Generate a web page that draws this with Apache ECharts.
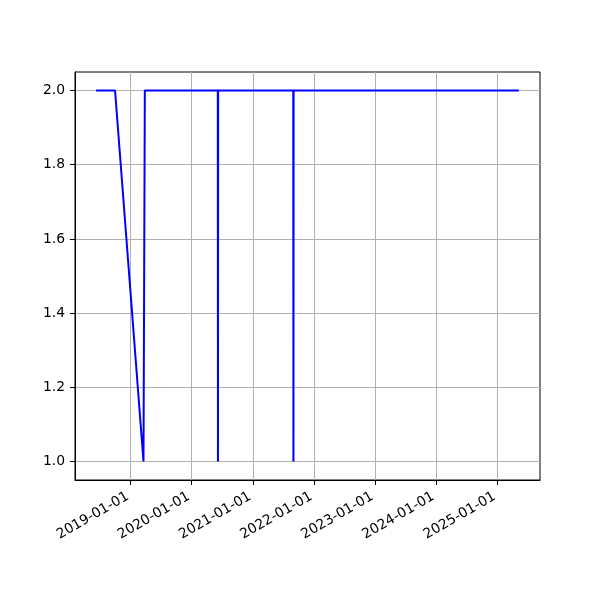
<!DOCTYPE html>
<html>
<head>
<meta charset="utf-8">
<script src="https://cdn.jsdelivr.net/npm/echarts@6/dist/echarts.min.js"></script>
<style>html,body{margin:0;padding:0;background:#fff}#c{width:600px;height:600px}</style>
</head>
<body>
<div id="c"></div>
<script>
const dates = ['2018-06-10','2018-10-01','2019-03-20','2019-03-28','2020-06-06','2020-06-07','2020-06-08','2021-08-31','2021-09-01','2021-09-02','2025-05-10'];
const values = [2, 2, 1, 2, 2, 1, 2, 2, 1, 2, 2];
const xTicks = ['2019-01-01','2020-01-01','2021-01-01','2022-01-01','2023-01-01','2024-01-01','2025-01-01'];
const yTicks = [1.0, 1.2, 1.4, 1.6, 1.8, 2.0];

function ts(s){const p=s.split('-').map(Number);return Date.UTC(p[0],p[1]-1,p[2]);}
function pad(n){return (n<10?'0':'')+n;}
function fmt(v){const d=new Date(v);return d.getUTCFullYear()+'-'+pad(d.getUTCMonth()+1)+'-'+pad(d.getUTCDate());}

const data = dates.map((d,i)=>[ts(d), values[i]]);
const font = 'DejaVu Sans';
const chart = echarts.init(document.getElementById('c'), null, {renderer:'canvas'});
chart.setOption({
  animation:false,
  backgroundColor:'#fff',
  grid:{left:75,right:60,top:72,bottom:120,show:true,borderColor:'#000',borderWidth:1,backgroundColor:'transparent'},
  xAxis:{
    type:'value',
    scale:true,
    min:v=>v.min-0.05*(v.max-v.min),
    max:v=>v.max+0.05*(v.max-v.min),
    axisLine:{show:true,lineStyle:{color:'#000',width:1}},
    axisTick:{show:true,length:5,lineStyle:{color:'#000'},customValues:xTicks.map(ts)},
    axisLabel:{customValues:xTicks.map(ts),formatter:v=>fmt(v),rotate:30,margin:14,padding:[0,3,0,0],color:'#000',fontFamily:font,fontSize:13.9},
    splitLine:{show:true,lineStyle:{color:'#b0b0b0',width:1}}
  },
  yAxis:{
    type:'value',
    min:0.95,max:2.05,
    axisLine:{show:true,lineStyle:{color:'#000',width:1}},
    axisTick:{show:true,length:5,lineStyle:{color:'#000'},customValues:yTicks},
    axisLabel:{customValues:yTicks,formatter:v=>v.toFixed(1),margin:10,color:'#000',fontFamily:font,fontSize:13.9},
    splitLine:{show:true,lineStyle:{color:'#b0b0b0',width:1}}
  },
  series:[{type:'line',data:data,symbol:'none',lineStyle:{color:'#0000ff',width:2},itemStyle:{color:'#0000ff'}}]
});
</script>
</body>
</html>
